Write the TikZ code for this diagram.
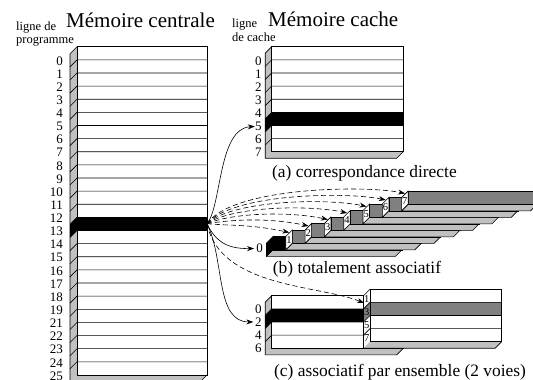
\documentclass[tikz,border=0pt]{standalone}
\usepackage{fontspec}
\setmainfont{Liberation Serif}
\usetikzlibrary{arrows.meta}
\definecolor{lgray}{RGB}{192,192,192}
\definecolor{dgray}{RGB}{128,128,128}
% #1 x0 #2 y0 #3 width #4 rows #5 row height #6 depth #7 side colour #8 marked row #9 marked colour
\newcommand{\memrect}[9]{%
  \pgfmathsetmacro\mxa{#1}%
  \pgfmathsetmacro\mya{#2}%
  \pgfmathsetmacro\mxb{#1+#3}%
  \pgfmathsetmacro\myb{#2+#4*#5}%
  \pgfmathtruncatemacro\mnm{#4-1}%
  \fill[#7] (\mxa,\mya) -- (\mxa-#6,\mya+#6) -- (\mxa-#6,\myb+#6) -- (\mxa,\myb) -- cycle;
  \fill[lgray] (\mxa,\myb) -- (\mxb,\myb) -- (\mxb-#6,\myb+#6) -- (\mxa-#6,\myb+#6) -- cycle;
  \fill[white] (\mxa,\mya) rectangle (\mxb,\myb);
  \fill[#9] (\mxa,{#2+#8*#5}) rectangle (\mxb,{#2+(#8+1)*#5});
  \fill[#9] (\mxa,{#2+#8*#5}) -- ++(-#6,#6) -- ++(0,#5) -- ++(#6,-#6) -- cycle;
  \draw[ln] (\mxa,\mya) -- (\mxa-#6,\mya+#6) -- (\mxa-#6,\myb+#6) -- (\mxb-#6,\myb+#6) -- (\mxb,\myb);
  \draw[ln] (\mxa,\mya) rectangle (\mxb,\myb);
  \foreach \mi in {1,...,\mnm}{\draw[ln] (\mxa-#6,{#2+\mi*#5+#6}) -- (\mxa,{#2+\mi*#5}) -- (\mxb,{#2+\mi*#5});}%
}
\begin{document}
\begin{tikzpicture}[x=1pt,y=-1pt,
  ln/.style={line width=0.6pt,draw=black},
  arr/.style={-{Stealth[length=7pt,width=5pt]}},
  dsh/.style={line width=0.6pt,dash pattern=on 5pt off 3pt},
  title/.style={inner sep=0pt,anchor=base west,font=\fontsize{21}{24}\selectfont},
  small/.style={inner sep=0pt,anchor=base west,font=\fontsize{12.5}{14}\selectfont},
  lab/.style={inner sep=0pt,anchor=east,font=\fontsize{13}{14}\selectfont},
  inlab/.style={inner sep=0pt,font=\fontsize{10.5}{12}\selectfont},
  capt/.style={inner sep=0pt,anchor=base west,font=\fontsize{17.4}{20}\selectfont}]
\useasboundingbox (0,0) rectangle (533,380);
\clip (0,0) rectangle (533,380);

% titles
\node[title] (tmain) at (66,27.3) {Mémoire centrale};
\node[title] (tcache) at (268,26.7) {Mémoire cache};
\node[small] (lp1) at (16,30.7) {ligne de};
\node[small] (lp2) at (16,43.3) {programme};
\node[small] (lc1) at (232,27.3) {ligne};
\node[small] (lc2) at (232,41.7) {de cache};

% main memory
\memrect{77}{46.7}{130}{25}{13.13}{7}{lgray}{13}{black}
\foreach \lab [count=\c from 0] in {0,1,2,3,4,5,6,7,8,9,10,11,12,13,14,15,16,17,18,19,21,22,23,24,25}
  \node[lab] (ml\lab) at (63,{60.8+13.13*\c}) {\lab};

% (a) direct mapped
\memrect{271.7}{46.7}{131.6}{8}{13.13}{6.5}{lgray}{5}{black}
\foreach \k in {0,...,7}
  \node[lab] (al\k) at (261.7,{60.8+13.13*\k}) {\k};
\node[capt] (capa) at (272,177) {(a) correspondance directe};

% (b) fully associative
\foreach \k in {0,...,7}{
  \pgfmathsetmacro\ox{273+19.3*\k}
  \pgfmathsetmacro\oy{236.5-6.5*\k}
  \ifnum\k=0
    \def\fc{black}\def\sc{black}
  \else
    \def\fc{dgray}\def\sc{white}
  \fi
  \filldraw[ln,fill=lgray] (\ox,\oy+13.3) -- (\ox+129,\oy+13.3) -- (\ox+122.5,\oy+19.8) -- (\ox-6.5,\oy+19.8) -- cycle;
  \filldraw[ln,fill=\fc] (\ox,\oy) rectangle (\ox+129,\oy+13.3);
  \filldraw[ln,fill=\sc] (\ox,\oy) -- (\ox-6.5,\oy+6.5) -- (\ox-6.5,\oy+19.8) -- (\ox,\oy+13.3) -- cycle;
  \ifnum\k>0
    \node[inlab] (bd\k) at (\ox-3.25,\oy+9.9) {\k};
  \fi
  \coordinate (t\k) at (\ox-3,\oy+2.5);
}
\node[lab] (bl0) at (263,248.5) {0};
\node[capt] (capb) at (272.7,273) {(b) totalement associatif};

% (c) set associative, 2 ways
\memrect{271.7}{295.7}{131.6}{4}{13.15}{6.5}{lgray}{1}{black}
\memrect{370}{289.3}{131.7}{4}{13.1}{6.5}{white}{1}{dgray}
\foreach \lab [count=\c from 0] in {0,2,4,6}
  \node[lab] (cl\lab) at (261.7,{308.8+13.15*\c}) {\lab};
\foreach \lab [count=\c from 0] in {1,3,5,7}
  \node[inlab] (cr\lab) at (366.75,{299.1+13.1*\c}) {\lab};
\node[capt] (capc) at (274,376.5) {(c) associatif par ensemble (2 voies)};

% connectors
\coordinate (src) at (207,223.7);
\coordinate (tc) at (364,303);
\draw[ln,arr] (src) .. controls (222,205) and (218,128.5) .. (al5.west);
\draw[ln,arr] (src) .. controls (215,240) and (225,249) .. ([xshift=-2pt]bl0.west);
\draw[ln,arr] (src) .. controls (225,260) and (215,322) .. ([xshift=-1.5pt]cl2.west);
\foreach \k in {1,...,7}{
  \pgfmathsetmacro\ox{273+19.3*\k}
  \pgfmathsetmacro\oy{236.5-6.5*\k}
  \draw[dsh,arr] (src) .. controls (232,\oy-4) and (\ox-43,\oy-6) .. (t\k);
}
\draw[dsh,arr] (src) .. controls (220,288) and (320,285) .. (tc);
\end{tikzpicture}
\end{document}
